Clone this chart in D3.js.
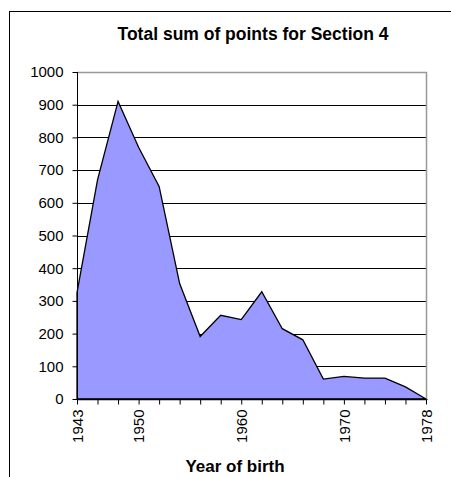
<!DOCTYPE html>
<html>
<head>
<meta charset="utf-8">
<script src="https://cdn.jsdelivr.net/npm/d3@7"></script>
<style>
  body { margin: 0; background: #fff; }
  text { font-family: "Liberation Sans", Arial, sans-serif; fill: #000; }
</style>
</head>
<body>
<div id="chart"></div>
<script>
//////////////////////////////////////////////////////////////
///////////////////////// Data ///////////////////////////////
//////////////////////////////////////////////////////////////

// 18 categories along x, only some of them carry a label
var years = [1943, 1945, 1947, 1950, 1952, 1954, 1956, 1958, 1960,
             1962, 1964, 1966, 1968, 1970, 1972, 1974, 1976, 1978];
var labelled = [1943, 1950, 1960, 1970, 1978];
var points = [325, 670, 910, 770, 650, 353, 191, 256, 243,
              328, 215, 181, 61, 69, 64, 64, 37, 0];
var yTicks = [0, 100, 200, 300, 400, 500, 600, 700, 800, 900, 1000];

//////////////////////////////////////////////////////////////
/////////////////////// Settings /////////////////////////////
//////////////////////////////////////////////////////////////

var W = 451, H = 477;
var margin = {top: 72, right: 26, bottom: 78, left: 77};
var width = 426 - margin.left;
var height = 399 - margin.top;

var svg = d3.select("#chart").append("svg")
    .attr("width", W)
    .attr("height", H);

// chart frame (runs off the right and bottom of the picture)
svg.append("rect")
    .attr("x", 9.5).attr("y", 11.5)
    .attr("width", 460).attr("height", 480)
    .attr("fill", "none")
    .attr("stroke", "#000");

var g = svg.append("g")
    .attr("transform", "translate(" + margin.left + "," + margin.top + ")");

var xScale = d3.scalePoint().domain(years).range([0, width]);
var yScale = d3.scaleLinear().domain([0, 1000]).range([height, 0]);

// gridlines
g.selectAll(".grid")
    .data(yTicks.filter(function(d) { return d > 0 && d < 1000; }))
    .enter().append("line")
    .attr("x1", 0).attr("x2", width)
    .attr("y1", function(d) { return Math.round(yScale(d)) + 0.5; })
    .attr("y2", function(d) { return Math.round(yScale(d)) + 0.5; })
    .attr("stroke", "#000");

// plot area border top + right (grey)
g.append("path")
    .attr("d", "M0," + (yScale(1000) + 0.5) + "H" + (width + 0.5) + "V" + height)
    .attr("fill", "none")
    .attr("stroke", "#999")
    .attr("stroke-width", 1.5);

// area
var area = d3.area()
    .x(function(d, i) { return xScale(years[i]); })
    .y0(yScale(0))
    .y1(function(d) { return yScale(d); });

g.append("path")
    .datum(points)
    .attr("d", area)
    .attr("fill", "#9999ff")
    .attr("stroke", "#000")
    .attr("stroke-width", 1.3)
    .attr("stroke-linejoin", "miter");

// y axis
var yAxis = d3.axisLeft(yScale).tickValues(yTicks).tickSize(5).tickPadding(9)
    .tickFormat(d3.format("d"));
var gy = g.append("g").attr("transform", "translate(0.5,0)").call(yAxis)
    .attr("font-size", 15).attr("font-family", null);
gy.select(".domain").attr("stroke", "#000").attr("d", "M0,0V" + height);

// x axis
var xAxis = d3.axisBottom(xScale).tickSize(5).tickPadding(6)
    .tickFormat(function(d) { return labelled.indexOf(d) >= 0 ? d : ""; });
var gx = g.append("g").attr("transform", "translate(0," + (height + 0.5) + ")").call(xAxis)
    .attr("font-size", 15).attr("font-family", null);
gx.select(".domain").attr("stroke", "#000").attr("stroke-width", 1.5).attr("d", "M0,0H" + width);
gx.selectAll("text")
    .attr("text-anchor", "end")
    .attr("transform", "rotate(-90)")
    .attr("x", -10).attr("y", 0).attr("dy", "0.35em");

// titles
svg.append("text")
    .attr("x", 253).attr("y", 40)
    .attr("text-anchor", "middle")
    .style("font-size", "17.5px").style("font-weight", "bold")
    .text("Total sum of points for Section 4");

svg.append("text")
    .attr("x", 235).attr("y", 472)
    .attr("text-anchor", "middle")
    .style("font-size", "17px").style("font-weight", "bold")
    .text("Year of birth");
</script>
</body>
</html>
